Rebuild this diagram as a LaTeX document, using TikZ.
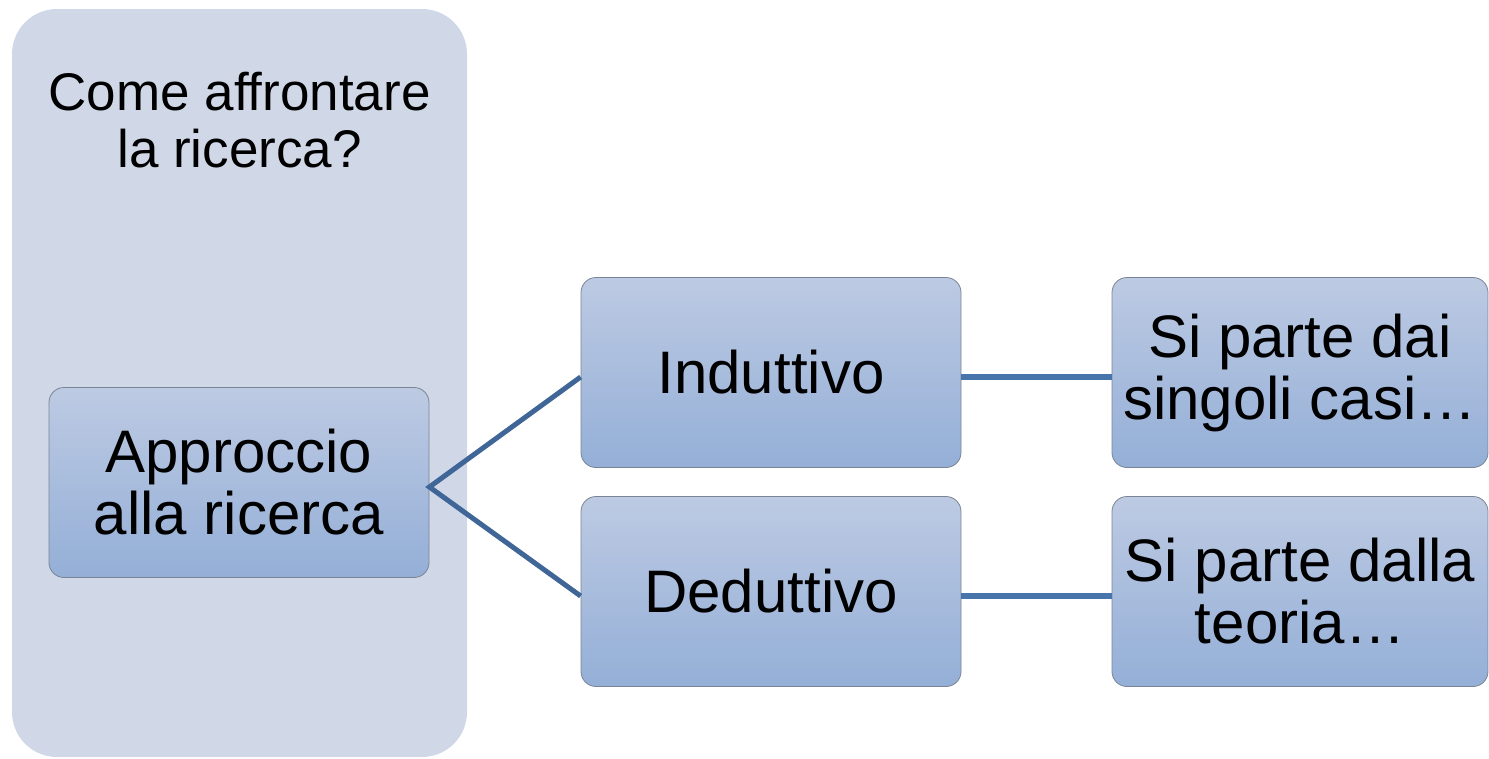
\documentclass[tikz,border=0pt]{standalone}
\usepackage{fontspec}
\setmainfont{Liberation Sans}
\definecolor{panelfill}{HTML}{D0D8E8}
\definecolor{boxtop}{HTML}{BDCAE3}
\definecolor{boxbottom}{HTML}{94AFD7}
\definecolor{boxline}{HTML}{7A8494}
\definecolor{linkdiag}{HTML}{3F6696}
\definecolor{linkflat}{HTML}{4874AC}
\begin{document}
\begin{tikzpicture}[x=1pt,y=-1pt,
  panel/.style={fill=panelfill, rounded corners=45pt},
  stepbox/.style={draw=boxline, line width=0.8pt, rounded corners=15pt,
    top color=boxtop, bottom color=boxbottom, minimum width=380pt,
    minimum height=190pt, inner sep=0pt, align=center,
    font=\fontsize{60}{62}\selectfont},
  diaglink/.style={draw=linkdiag, line width=5pt},
  flatlink/.style={draw=linkflat, line width=6pt}]
  \useasboundingbox (0,0) rectangle (1489,758);
  % background column
  \fill[panel] (12,9) rectangle (467,757);
  \node[align=center, font=\fontsize{53}{57}\selectfont] (question) at (239.5,120)
    {Come affrontare\\la ricerca?};
  % boxes
  \node[stepbox] (appr) at (239,482.5) {Approccio\\alla ricerca};
  \node[stepbox] (ind) at (771,372.5) {Induttivo};
  \node[stepbox] (ded) at (771,591.5) {Deduttivo};
  \node[stepbox, minimum width=376pt] (casi) at (1300,372.5) {Si parte dai\\singoli casi…};
  \node[stepbox, minimum width=376pt] (teoria) at (1300,591.5) {Si parte dalla\\teoria…};
  % connectors, attached a little below the box centres
  \draw[diaglink] ([yshift=-4.5pt]ind.west) -- ([yshift=-4.5pt]appr.east)
    -- ([yshift=-4.5pt]ded.west);
  \draw[flatlink] ([yshift=-4.5pt]ind.east) -- ([yshift=-4.5pt]casi.west);
  \draw[flatlink] ([yshift=-4.5pt]ded.east) -- ([yshift=-4.5pt]teoria.west);
\end{tikzpicture}
\end{document}
